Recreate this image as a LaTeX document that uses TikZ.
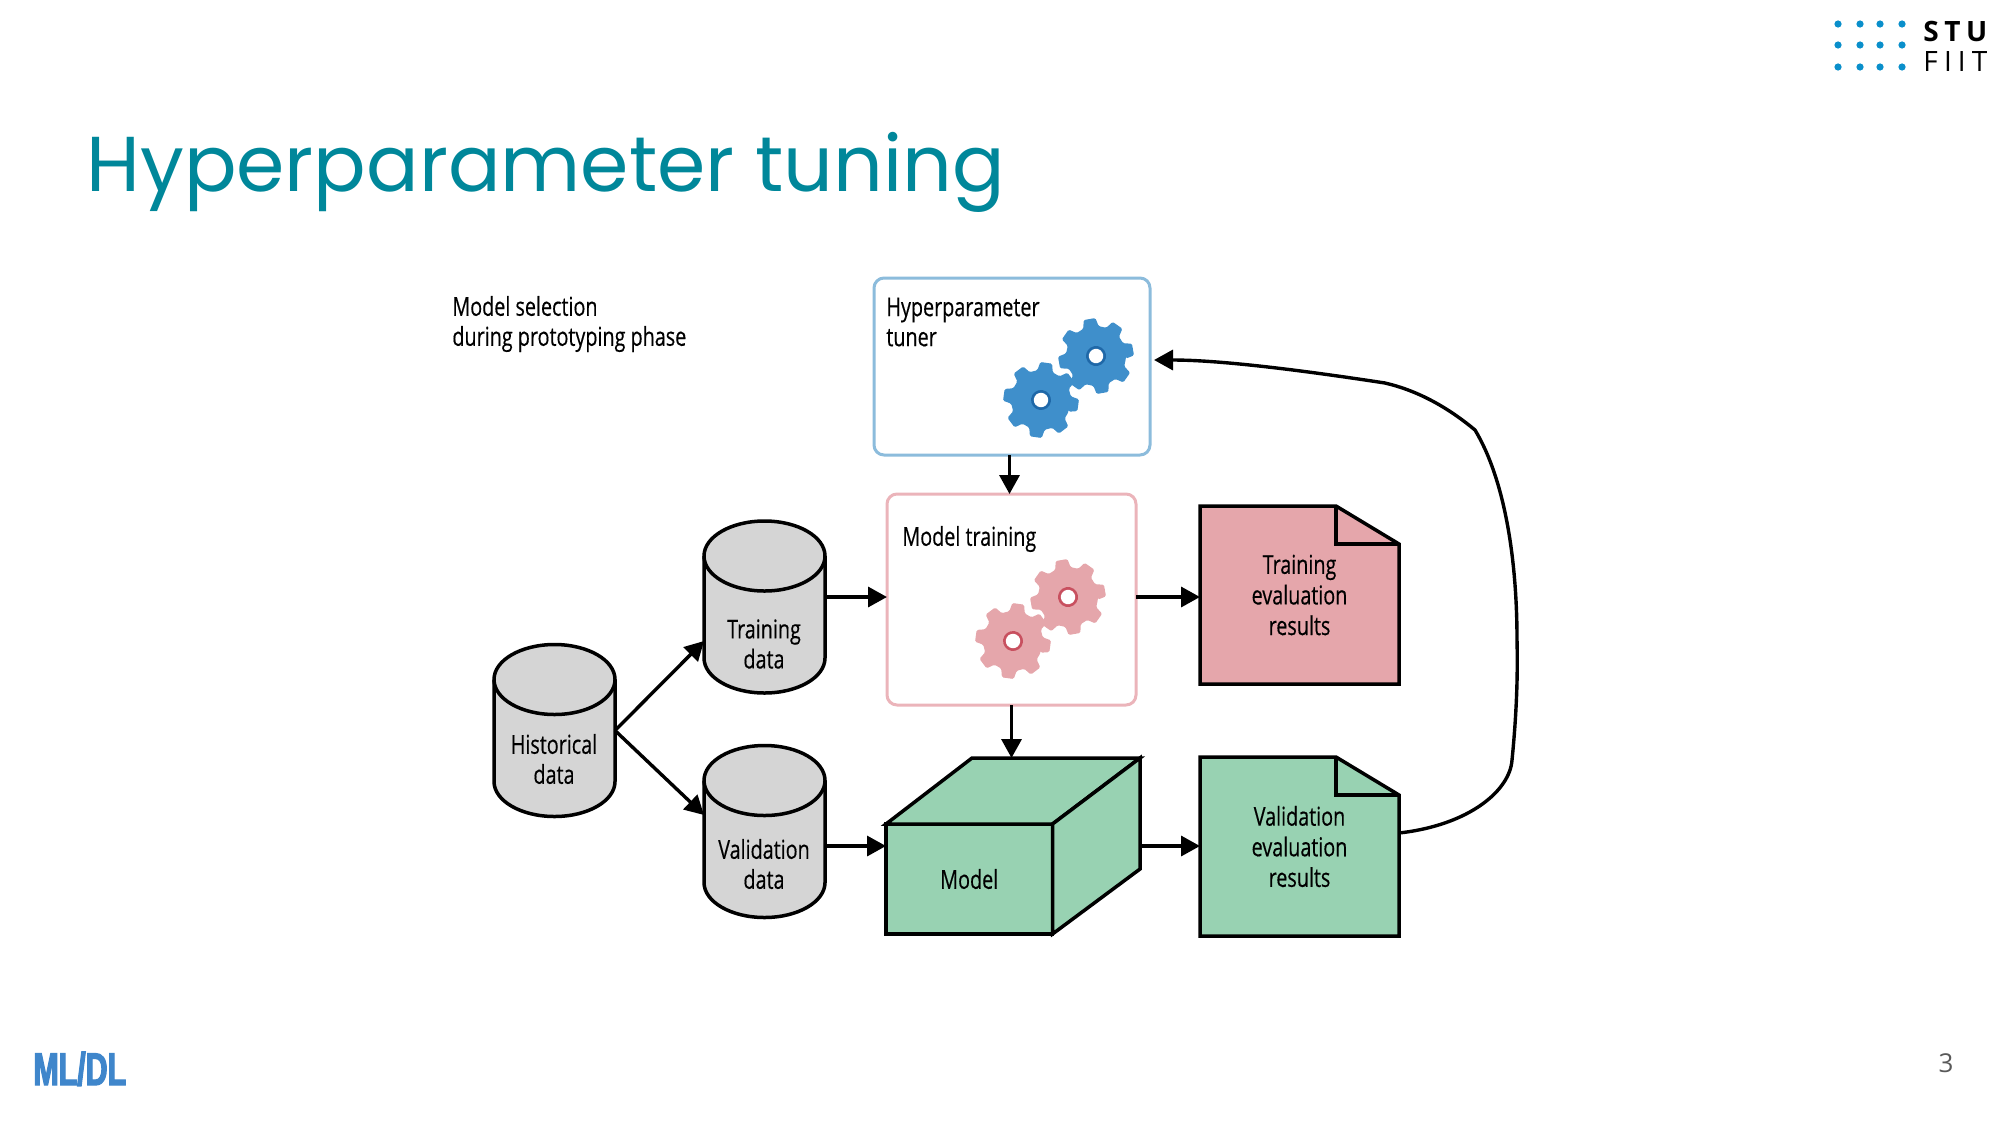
\documentclass[tikz,border=0pt]{standalone}
\usepackage{fontspec}
\setmainfont[FakeStretch=.76,FakeBold=.4]{Open Sans}
\newfontfamily\titlefont{Poppins}
\newfontfamily\stufont{Open Sans}
\newfontfamily\mldlfont[FakeStretch=.66,FakeBold=2.6]{Liberation Sans}
\usetikzlibrary{arrows.meta, calc, backgrounds}

\definecolor{TitleTeal}{HTML}{00879A}
\definecolor{LogoBlue}{HTML}{0A8FCB}
\definecolor{MlBlue}{HTML}{3F86CB}
\definecolor{CylGrey}{HTML}{D5D5D5}
\definecolor{TunerEdge}{HTML}{8CBCDC}
\definecolor{GearBlue}{HTML}{3F8FCB}
\definecolor{GearBlueRing}{HTML}{1F68A8}
\definecolor{TrainEdge}{HTML}{EBB4BA}
\definecolor{FillPink}{HTML}{E5A6AB}
\definecolor{GearPinkRing}{HTML}{C8505F}
\definecolor{FillGreen}{HTML}{98D2B2}

\tikzset{
  cylbody/.style={minimum width=60.5pt, minimum height=86pt, inner sep=0pt, outer sep=0pt},
  cyltext/.style={align=center, font=\fontsize{13}{15}\selectfont, inner sep=0pt},
  roundbox/.style={draw, rounded corners=5pt, line width=1.5pt, outer sep=0pt, inner sep=0pt},
  docbox/.style={minimum width=99.5pt, inner sep=0pt, outer sep=0pt, align=center,
    font=\fontsize{13}{15.3}\selectfont},
  plaintext/.style={align=left, anchor=west, inner sep=0pt, font=\fontsize{13}{15}\selectfont},
  flow/.style={line width=1.7pt, -{Triangle[width=10pt,length=9.5pt]}},
  outline/.style={draw, line width=1.75pt, line join=miter},
}

% r = outer radius in pt
\newcommand{\GearAt}[5]{%
  \begin{scope}[shift={(#1,#2)}, rotate=#5]
    \fill[#3, rounded corners=.7pt] (-15:15pt) \foreach \t in {0,45,...,315} {
      -- (\t-15:15pt) -- (\t-9:19pt) -- (\t+9:19pt) -- (\t+15:15pt) } -- cycle;
    \fill[#4] (0,0) circle (5pt);
    \fill[white] (0,0) circle (3.6pt);
  \end{scope}}

% upright drum drawn over a cylbody node
\newcommand{\DrumOn}[1]{%
  \path[outline, fill=CylGrey] ($(#1.north west)+(0,-17.5pt)$)
    arc[start angle=180, end angle=0, x radius=30.25pt, y radius=17.5pt]
    -- ($(#1.south east)+(0,17.5pt)$)
    arc[start angle=0, end angle=-180, x radius=30.25pt, y radius=17.5pt] -- cycle;
  \draw[line width=1.75pt] ($(#1.north west)+(0,-17.5pt)$)
    arc[start angle=180, end angle=360, x radius=30.25pt, y radius=17.5pt];}

% folded sheet behind a docbox node
\newcommand{\SheetBehind}[2]{%
  \begin{scope}[on background layer]
    \path[outline, fill=#2] (#1.north west) -- ($(#1.north east)+(-31.5pt,0)$)
      -- ($(#1.north east)+(0,-19pt)$) -- (#1.south east) -- (#1.south west) -- cycle;
    \draw[line width=1.75pt] ($(#1.north east)+(-31.5pt,0)$) -- ($(#1.north east)+(-31.5pt,-19pt)$)
      -- ($(#1.north east)+(0,-19pt)$);
  \end{scope}}

\begin{document}
\begin{tikzpicture}[x=.5pt, y=-.5pt]

\useasboundingbox (0,0) rectangle (2000,1125);

% slide furniture
\node (title) [anchor=base west, inner sep=0pt, text=TitleTeal, font=\titlefont\fontsize{38.9}{43}\selectfont]
  at (86,191) {Hyperparameter tuning};
\foreach \x in {1838,1860,1880,1902}
  \foreach \y in {24,45,67}
    \fill[LogoBlue] (\x,\y) circle (1.8pt);
\node (stu) [anchor=base west, inner sep=0pt, font=\stufont\bfseries\fontsize{14}{14}\selectfont\addfontfeature{LetterSpace=20}]
  at (1923,41) {STU};
\node (fiit) [anchor=base west, inner sep=0pt, font=\stufont\fontsize{14}{14}\selectfont\addfontfeature{LetterSpace=22}]
  at (1923,71) {FIIT};
\node (mldl) [anchor=base west, inner sep=0pt, text=MlBlue, font=\mldlfont\bfseries\fontsize{23}{23}\selectfont]
  at (33,1085) {ML/DL};
\node (pagenum) [inner sep=0pt, text=black!65, font=\stufont\fontsize{13}{13}\selectfont] at (1946,1063) {3};

\coordinate (rowA) at (0,597);
\coordinate (rowB) at (0,846);
\coordinate (rowC) at (0,641);
\coordinate (rowD) at (0,815);

\node (selectlabel) [plaintext] at (452,324) {Model selection\\during prototyping phase};

% boxes
\node (tunerbox) [roundbox, draw=TunerEdge, minimum width=138pt, minimum height=88.5pt] at (1012,366.5) {};
\node (tunerlabel) [plaintext] at (886,322) {Hyperparameter\\tuner};
\GearAt{1096}{356}{GearBlue}{GearBlueRing}{10}
\GearAt{1041}{400}{GearBlue}{GearBlueRing}{-8}

\node (trainbox) [roundbox, draw=TrainEdge, minimum width=124.5pt, minimum height=105.5pt] at (1011.5,599.5) {};
\node (trainlabel) [plaintext] at (902,539) {Model training};
\GearAt{1068}{597}{FillPink}{GearPinkRing}{10}
\GearAt{1013}{641}{FillPink}{GearPinkRing}{-8}

% cylinders
\node (histcyl) [cylbody] at (554.5,730.5) {};
\DrumOn{histcyl}
\node (histlabel) [cyltext] at (554,759) {Historical\\data};
\node (traincyl) [cylbody] at (764.5,607) {};
\DrumOn{traincyl}
\node (trainclabel) [cyltext] at (764,644) {Training\\data};
\node (valcyl) [cylbody] at (764.5,831.5) {};
\DrumOn{valcyl}
\node (valclabel) [cyltext] at (764,864) {Validation\\data};

% model block
\coordinate (backleft) at (972,758);
\coordinate (backright) at (1140,758);
\coordinate (backlow) at (1140,869);
\node (modelbox) [draw, line width=1.75pt, fill=FillGreen, outer sep=0pt, inner sep=0pt,
  minimum width=83.25pt, minimum height=55pt, font=\fontsize{13}{15}\selectfont] at (969.25,879) {Model};
\path[outline, fill=FillGreen] (modelbox.north west) -- (backleft) -- (backright) -- (modelbox.north east) -- cycle;
\path[outline, fill=FillGreen] (modelbox.north east) -- (backright) -- (backlow) -- (modelbox.south east) -- cycle;

% result sheets
\node (trainres) [docbox, minimum height=89pt] at (1299.5,595) {Training\\evaluation\\results};
\SheetBehind{trainres}{FillPink}
\node (valres) [docbox, minimum height=89.5pt] at (1299.5,846.5) {Validation\\evaluation\\results};
\SheetBehind{valres}{FillGreen}

% connectors
\draw[flow] ([xshift=-1pt]tunerbox.south -| trainbox.north) -- ([xshift=-1pt]trainbox.north);
\draw[flow] (trainbox.south) -- (trainbox.south |- backleft);
\draw[flow] (histcyl.east) -- (traincyl.west |- rowC);
\draw[flow] (histcyl.east) -- (valcyl.west |- rowD);
\draw[flow] (traincyl.east |- rowA) -- (trainbox.west |- rowA);
\draw[flow] (valcyl.east |- rowB) -- (modelbox.west |- rowB);
\draw[flow] (trainbox.east |- rowA) -- (trainres.west |- rowA);
\draw[flow] (backright |- rowB) -- (valres.west |- rowB);
\draw[flow] (valres.east |- 0,833) .. controls (1470,825) and (1510,790) .. (1512,760)
  .. controls (1516,720) and (1518,680) .. (1517,640)
  .. controls (1517,560) and (1505,480) .. (1475,430)
  .. controls (1445,405) and (1415,390) .. (1385,383)
  .. controls (1300,370) and (1220,360) .. ([xshift=2pt]tunerbox.east |- 0,360);

\end{tikzpicture}
\end{document}
